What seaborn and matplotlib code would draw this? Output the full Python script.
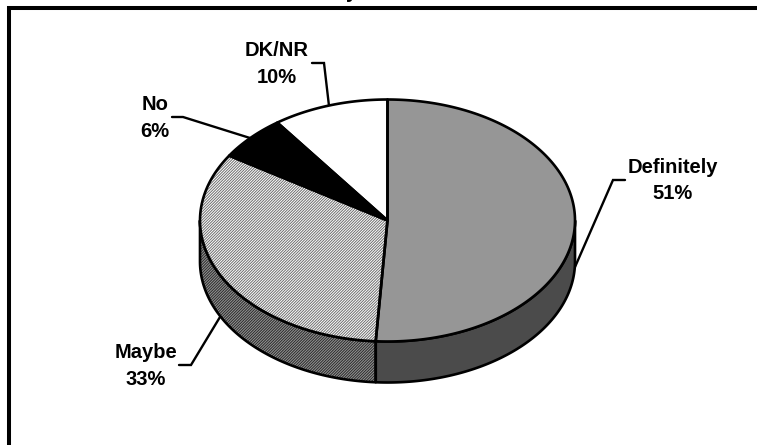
import numpy as np
import matplotlib
matplotlib.use("Agg")
import matplotlib.pyplot as plt
from matplotlib.patches import Polygon
import seaborn as sns

categories = ["Definitely", "Maybe", "No", "DK/NR"]
shares = [51, 33, 6, 10]

top_colors = ["#969696", "#ffffff", "#000000", "#ffffff"]
wall_colors = ["#4b4b4b", "#969696", "#000000", "#ffffff"]
top_hatch = [None, "/" * 12, None, None]
wall_hatch = [None, "/" * 12, None, None]

sns.set_theme(style="white")
plt.rcParams["font.family"] = ["Liberation Sans", "DejaVu Sans"]
plt.rcParams["hatch.linewidth"] = 0.7

fig = plt.figure(figsize=(7.57, 4.45), dpi=100)
ax = fig.add_axes([0, 0, 1, 1])
ax.set_xlim(0, 757)
ax.set_ylim(445, 0)
ax.axis("off")

CX, CY, RX, RY, DEPTH = 387.5, 220.5, 187.5, 121, 41
LW = 1.9


def ell(deg, dy=0.0):
    t = np.radians(deg)
    return np.column_stack([CX + RX * np.sin(t), CY - RY * np.cos(t) + dy])


def shape(pts, face, hatch, hatch_color, z):
    if hatch:
        ax.add_patch(Polygon(pts, closed=True, facecolor=face, edgecolor=hatch_color,
                             hatch=hatch, lw=0, zorder=z))
    else:
        ax.add_patch(Polygon(pts, closed=True, facecolor=face, edgecolor="none", zorder=z))
    ax.add_patch(Polygon(pts, closed=True, fill=False, edgecolor="black", lw=LW,
                         joinstyle="round", zorder=z + 0.5))


edges = np.concatenate([[0], np.cumsum(shares)]) * 3.6

# side wall of the disc: only the front half (90 to 270 degrees) shows
for i in range(len(shares)):
    a, b = max(edges[i], 90), min(edges[i + 1], 270)
    if b > a:
        th = np.linspace(a, b, 120)
        pts = np.vstack([ell(th), ell(th[::-1], DEPTH)])
        shape(pts, wall_colors[i], wall_hatch[i], "#2a2a2a", 2)

# top face
for i in range(len(shares)):
    th = np.linspace(edges[i], edges[i + 1], 200)
    pts = np.vstack([[CX, CY], ell(th)])
    shape(pts, top_colors[i], top_hatch[i], "#6e6e6e", 4)

# leader lines and labels
leaders = {
    "Definitely": ([575, 613, 625], [267, 180, 180]),
    "Maybe": ([220, 191, 179], [317, 365, 365]),
    "No": ([250, 183, 172], [138, 117, 117]),
    "DK/NR": ([329, 324, 312], [106, 63, 63]),
}
label_at = {"Definitely": (673, 180.5), "Maybe": (146, 366), "No": (155, 118), "DK/NR": (277, 64)}
for name, val in zip(categories, shares):
    xs, ys = leaders[name]
    ax.plot(xs, ys, color="black", lw=1.7, solid_joinstyle="miter", zorder=1)
    x, y = label_at[name]
    ax.text(x, y, f"{name}\n{val}%", ha="center", va="center", fontsize=14.5,
            fontweight="bold", color="#000000", linespacing=1.5, zorder=6)

# chart frame, cut off on the right and at the bottom
ax.plot([9, 9, 757], [445, 8, 8], color="black", lw=2.9, solid_joinstyle="miter", zorder=7)
# tail of the cut-off title
ax.text(346, -2.5, "y", ha="left", va="baseline", fontsize=14.5, fontweight="bold", color="black")

fig.savefig("out.png", dpi=100)
